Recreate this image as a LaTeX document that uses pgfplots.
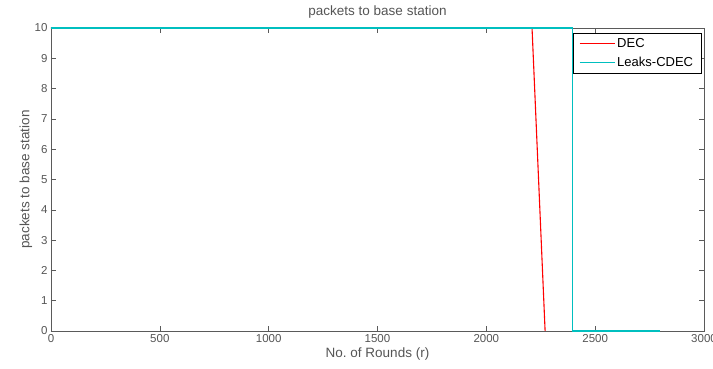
\documentclass[border=0pt]{standalone}
\usepackage{fontspec}
\setmainfont{Liberation Sans}
\usepackage{pgfplots}
\pgfplotsset{compat=1.18}
\usetikzlibrary{calc}
\definecolor{mcyan}{RGB}{0,191,191}
\definecolor{axgray}{RGB}{90,90,90}
\definecolor{txtgray}{RGB}{85,85,85}
\begin{document}
\begin{tikzpicture}
\begin{axis}[name=ax, scale only axis, width=653pt, height=303pt,
  xmin=0, xmax=3000, ymin=0, ymax=10,
  xtick={0,500,...,3000}, ytick={0,1,...,10},
  tick align=inside, major tick length=5pt,
  axis line style={axgray, line width=0.6pt},
  tick style={axgray, line width=0.6pt},
  every tick label/.append style={font=\fontsize{11.5}{12}\selectfont, color=txtgray},
  /pgf/number format/assume math mode=true,
  scaled x ticks=false,
  x tick label style={/pgf/number format/1000 sep={}},
  clip=false,
  title={packets to base station},
  title style={font=\fontsize{13.5}{14}\selectfont, color=txtgray, at={(axis description cs:0.5,1)}, anchor=center, yshift=10pt},
  xlabel={No.\ of Rounds (r)},
  xlabel style={font=\fontsize{13.5}{14}\selectfont, color=txtgray, at={([yshift=-23pt]axis description cs:0.5,0)}, anchor=center},
  ylabel={packets to base station},
  ylabel style={font=\fontsize{13.5}{14}\selectfont, color=txtgray, at={([xshift=-25pt]axis description cs:0,0.5)}, anchor=center},
  legend style={at={(axis description cs:0.996,0.983)}, anchor=north east,
    font=\fontsize{13}{14}\selectfont, line width=0.6pt,
    inner xsep=6pt, inner ysep=3pt, row sep=4pt},
  legend cell align=left,
  legend image code/.code={\draw[#1, line width=1.2pt] (0pt,0.3pt) -- (35pt,0.3pt);},
]
\addplot[red, line width=1.1pt] coordinates {(0,10) (2210,10) (2270,0)};
\addlegendentry{DEC}
\addplot[mcyan, line width=1.1pt] coordinates {(0,10) (2395,10) (2395,0) (2800,0)};
\addlegendentry{Leaks-CDEC}
\end{axis}
\pgfresetboundingbox
\path[use as bounding box] ($(ax.south west)+(-51pt,-37pt)$) rectangle ($(ax.north east)+(9pt,28pt)$);
\end{tikzpicture}
\end{document}
